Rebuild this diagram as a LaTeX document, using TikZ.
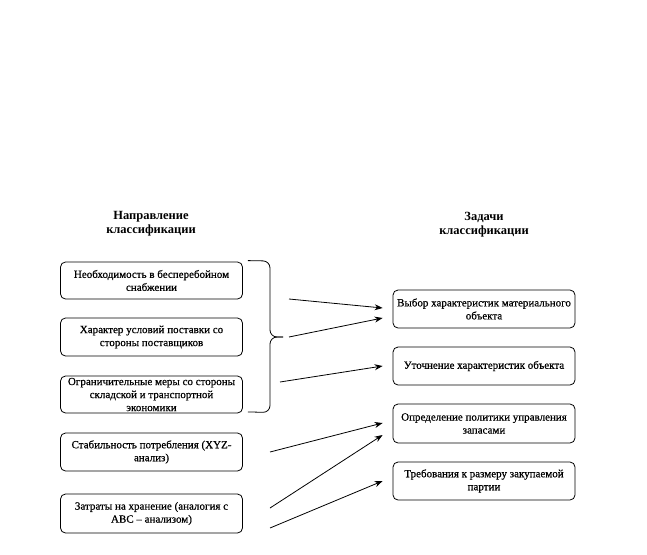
\documentclass[tikz,border=0pt]{standalone}
\usepackage{fontspec}
\setmainfont{Liberation Serif}
\newfontfamily\boxfont[FakeBold=0.6]{Liberation Serif}
\usetikzlibrary{arrows.meta,calc}
\begin{document}
\begin{tikzpicture}[x=1pt,y=-1pt,
  box/.style={draw,line width=0.8pt,rounded corners=5pt,align=center,inner sep=1pt,
    minimum width=182pt,font=\boxfont\fontsize{11}{13}\selectfont},
  bbox/.style={box},
  ttl/.style={align=center,font=\fontsize{12.5}{14}\selectfont\bfseries},
  arr/.style={line width=0.8pt,-{Stealth[length=8pt,width=6pt]}},
  brace/.style={line width=0.8pt,rounded corners=7pt}]
\path[fill=white] (0,0) rectangle (647,554);
\useasboundingbox (0,0) rectangle (647,554);
% titles
\node[ttl] (t1) at (151,224) {Направление\\классификации};
\node[ttl] (t2) at (484,224.5) {Задачи\\классификации};
% left boxes
\node[bbox,minimum height=37pt] (b1) at (151.5,280.5) {Необходимость в бесперебойном\\снабжении};
\node[bbox,minimum height=38pt] (b2) at (151.5,337) {Характер условий поставки со\\стороны поставщиков};
\node[bbox,minimum height=37pt,inner sep=0pt] (b3) at (151.5,394.5) {Ограничительные меры со стороны\\складской и транспортной\\экономики};
\node[bbox,minimum height=38pt] (b4) at (151.5,452) {Стабильность потребления (XYZ-\\анализ)};
\node[bbox,minimum height=39pt] (b5) at (151.5,513.5) {Затраты на хранение (аналогия с\\ABC – анализом)};
% right boxes
\node[box,minimum height=38pt] (r1) at (484,309) {Выбор характеристик материального\\объекта};
\node[box,minimum height=38pt] (r2) at (484,366) {Уточнение характеристик объекта};
\node[bbox,minimum height=39pt] (r3) at (484,423.5) {Определение политики управления\\запасами};
\node[bbox,minimum height=38pt] (r4) at (484,481) {Требования к размеру закупаемой\\партии};
% brace
\coordinate (bt) at ($(b1.north east)+(5,-1)$);
\coordinate (bb) at ($(b3.south east)+(5,-1.5)$);
\coordinate (tip) at (283,337);
\draw[brace] (bt) -- (270,261) -- (270,337) -- (tip);
\draw[brace] (bb) -- (270,412.5) -- (270,337) -- (tip);
% arrow start points
\coordinate (s1) at (289,299);
\coordinate (s2) at (289,337);
\coordinate (s3) at (280,382);
\coordinate (s4) at (270,452);
\coordinate (s5) at (270,508);
\coordinate (s6) at (270,528);
\draw[arr] (s1) -- ($(r1.west)+(-10,-1)$);
\draw[arr] (s2) -- ($(r1.west)+(-10,9)$);
\draw[arr] (s3) -- ($(r2.west)+(-10,0)$);
\draw[arr] (s4) -- ($(r3.west)+(-10,-0.5)$);
\draw[arr] (s5) -- ($(r3.west)+(-10,11.5)$);
\draw[arr] (s6) -- ($(r4.west)+(-10,0)$);
\end{tikzpicture}
\end{document}
